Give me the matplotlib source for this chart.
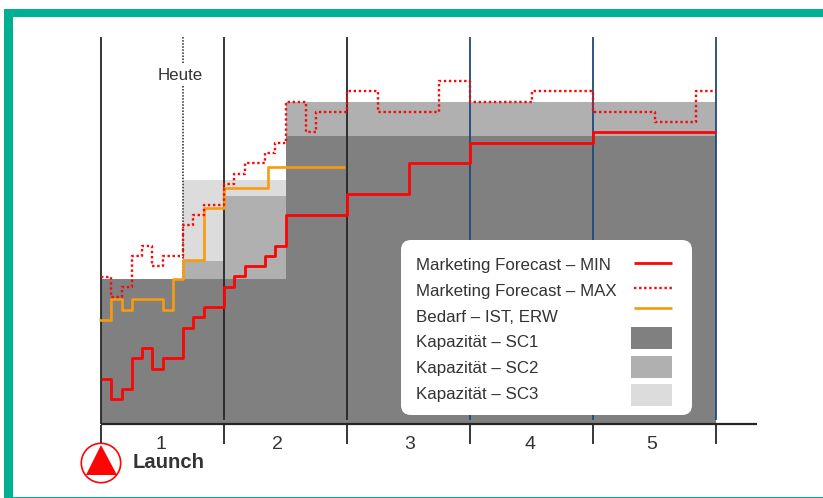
import numpy as np
import matplotlib
matplotlib.use('Agg')
import matplotlib.pyplot as plt
from matplotlib.patches import Circle, FancyBboxPatch, Polygon, Rectangle

plt.rcParams['font.family'] = ['Liberation Sans', 'DejaVu Sans']

# months since launch, one value per step
min_edges = [0, 1, 2, 3, 4, 5, 6, 8, 9, 10, 12, 13, 14, 16, 17, 18, 24, 30, 36, 48, 60]
min_vals = [4.35, 2.35, 3.35, 6.35, 7.35, 5.35, 6.35, 9.35, 10.35, 11.35, 13.35, 14.35,
            15.35, 16.35, 17.35, 20.35, 22.4, 25.4, 27.4, 28.4]

max_edges = [0, 1, 2, 3, 4, 5, 6, 8, 9, 10, 12, 13, 14, 16, 17, 18, 20, 21, 24, 27, 33,
             36, 42, 48, 54, 58, 60]
max_vals = [14.3, 12.35, 13.35, 16.35, 17.35, 15.35, 16.35, 19.35, 20.35, 21.35, 23.35,
            24.35, 25.4, 26.4, 27.4, 31.4, 28.4, 30.4, 32.4, 30.4, 33.4, 31.4, 32.4,
            30.4, 29.4, 32.4]

bedarf_edges = [-0.2, 1, 2, 3, 6, 7, 8, 10, 12, 16.33, 23.8]
bedarf_vals = [10.1, 12.15, 11.1, 12.15, 11.05, 14.05, 16.0, 21.0, 23.0, 25.0]

sc1_edges = [0, 18, 60]
sc1_top = [14.05, 28.05]
sc2_edges = [8, 12, 18, 60]
sc2_top = [15.9, 22.2, 31.4]
sc3_edges = [8, 18]
sc3_top = [23.8]

year_months = [0, 12, 24, 36, 48, 60]
year_labels = ['1', '2', '3', '4', '5']
year_label_pos = [5.8, 17.2, 30.1, 41.85, 53.75]
legend_labels = ['Marketing Forecast – MIN', 'Marketing Forecast – MAX', 'Bedarf – IST, ERW',
                 'Kapazität – SC1', 'Kapazität – SC2', 'Kapazität – SC3']

RED = '#fb0505'
ORANGE = '#f89c0e'
DARK = '#808080'
MID = '#b0b0b0'
LIGHT = '#dcdcdc'
TEAL = '#00b092'
NAVY = '#1f4a7a'
INK = '#262626'
TEXT = '#333333'
DOTS = (0, (1, 1.15))

W, H = 823, 498
x0, y0, unit = 101, 423.5, 10.25

fig = plt.figure(figsize=(W/100, H/100), dpi=100)

# chart axes, placed so one month and one unit are both 10.25 px
ax = fig.add_axes([0, 0, 1, 1])
ax.set_xlim(-x0/unit, (W - x0)/unit)
ax.set_ylim((y0 - H)/unit, y0/unit)
ax.axis('off')

# overlay in pixels for frame, legend and labels
px = fig.add_axes([0, 0, 1, 1], zorder=5)
px.set_xlim(0, W)
px.set_ylim(H, 0)
px.axis('off')
px.patch.set_alpha(0)


def steps(edges, vals):
    return edges, list(vals) + [vals[-1]]


for edges, top, color, z in [(sc3_edges, sc3_top, LIGHT, 1), (sc2_edges, sc2_top, MID, 2),
                             (sc1_edges, sc1_top, DARK, 3)]:
    e, t = steps(edges, top)
    ax.fill_between(e, 0, t, step='post', color=color, lw=0, zorder=z)

# year separators, the first one runs down to the baseline
for i, m in enumerate(year_months):
    ax.plot([m, m], [0.3 if i else 0, 37.7], color=INK if i < 3 else NAVY, lw=1.3, zorder=4,
            solid_capstyle='butt')
    ax.plot([m, m], [-0.1, -2.0], color=INK, lw=1.3, zorder=4, solid_capstyle='butt')
ax.plot([8, 8], [14, 37.7], color=INK, lw=1.1, ls=(0, (1, 1)), zorder=4)
ax.plot([0, 64], [0, 0], color=INK, lw=1.6, zorder=6, solid_capstyle='butt')

e, v = steps(bedarf_edges, bedarf_vals)
ax.step(e, v, where='post', color=ORANGE, lw=1.9, zorder=7, solid_capstyle='butt')
e, v = steps(min_edges, min_vals)
ax.step(e, v, where='post', color=RED, lw=2.0, zorder=8, solid_capstyle='butt')
e, v = steps(max_edges, max_vals)
ax.step(e, v, where='post', color=RED, lw=1.7, ls=DOTS, zorder=8)

for pos, lab in zip(year_label_pos, year_labels):
    ax.text(pos, -2.0, lab, ha='center', va='center', fontsize=14, color=TEXT, zorder=9)

# frame
px.add_patch(Rectangle((4, 9), W, 8, color=TEAL, lw=0))
px.add_patch(Rectangle((4, 9), 9, H, color=TEAL, lw=0))
px.add_patch(Rectangle((4, 496.5), W, 2, color=TEAL, lw=0))

# today label sits on a white gap in the dotted line
px.add_patch(Rectangle((155, 63), 52, 22, color='white', lw=0))
px.text(180, 75, 'Heute', ha='center', va='center', fontsize=12.2, color=TEXT)

# launch marker
px.add_patch(Circle((101, 463), 19.7, fc='white', ec=RED, lw=1.2))
px.add_patch(Polygon([(101, 445), (86, 475), (117, 475)], color=RED, lw=0))
px.text(133, 462, 'Launch', ha='left', va='center', fontsize=14.6, fontweight='bold', color=TEXT)

# legend
px.add_patch(FancyBboxPatch((401, 240), 291, 175, boxstyle='round,pad=0,rounding_size=10',
                            fc='white', ec='none'))
rows = [265, 291, 317, 342, 368, 394]
for lab, y in zip(legend_labels, rows):
    px.text(416, y, lab, ha='left', va='center', fontsize=12.2, color=TEXT)
px.plot([634, 672], [263, 263], color=RED, lw=2, solid_capstyle='butt')
px.plot([634, 672], [288, 288], color=RED, lw=1.7, ls=DOTS)
px.plot([634, 672], [307.7, 307.7], color=ORANGE, lw=1.9, solid_capstyle='butt')
for y, color in zip([327, 356, 384], [DARK, MID, LIGHT]):
    px.add_patch(Rectangle((631, y), 41, 22, color=color, lw=0))

fig.savefig('out.png', dpi=100)
